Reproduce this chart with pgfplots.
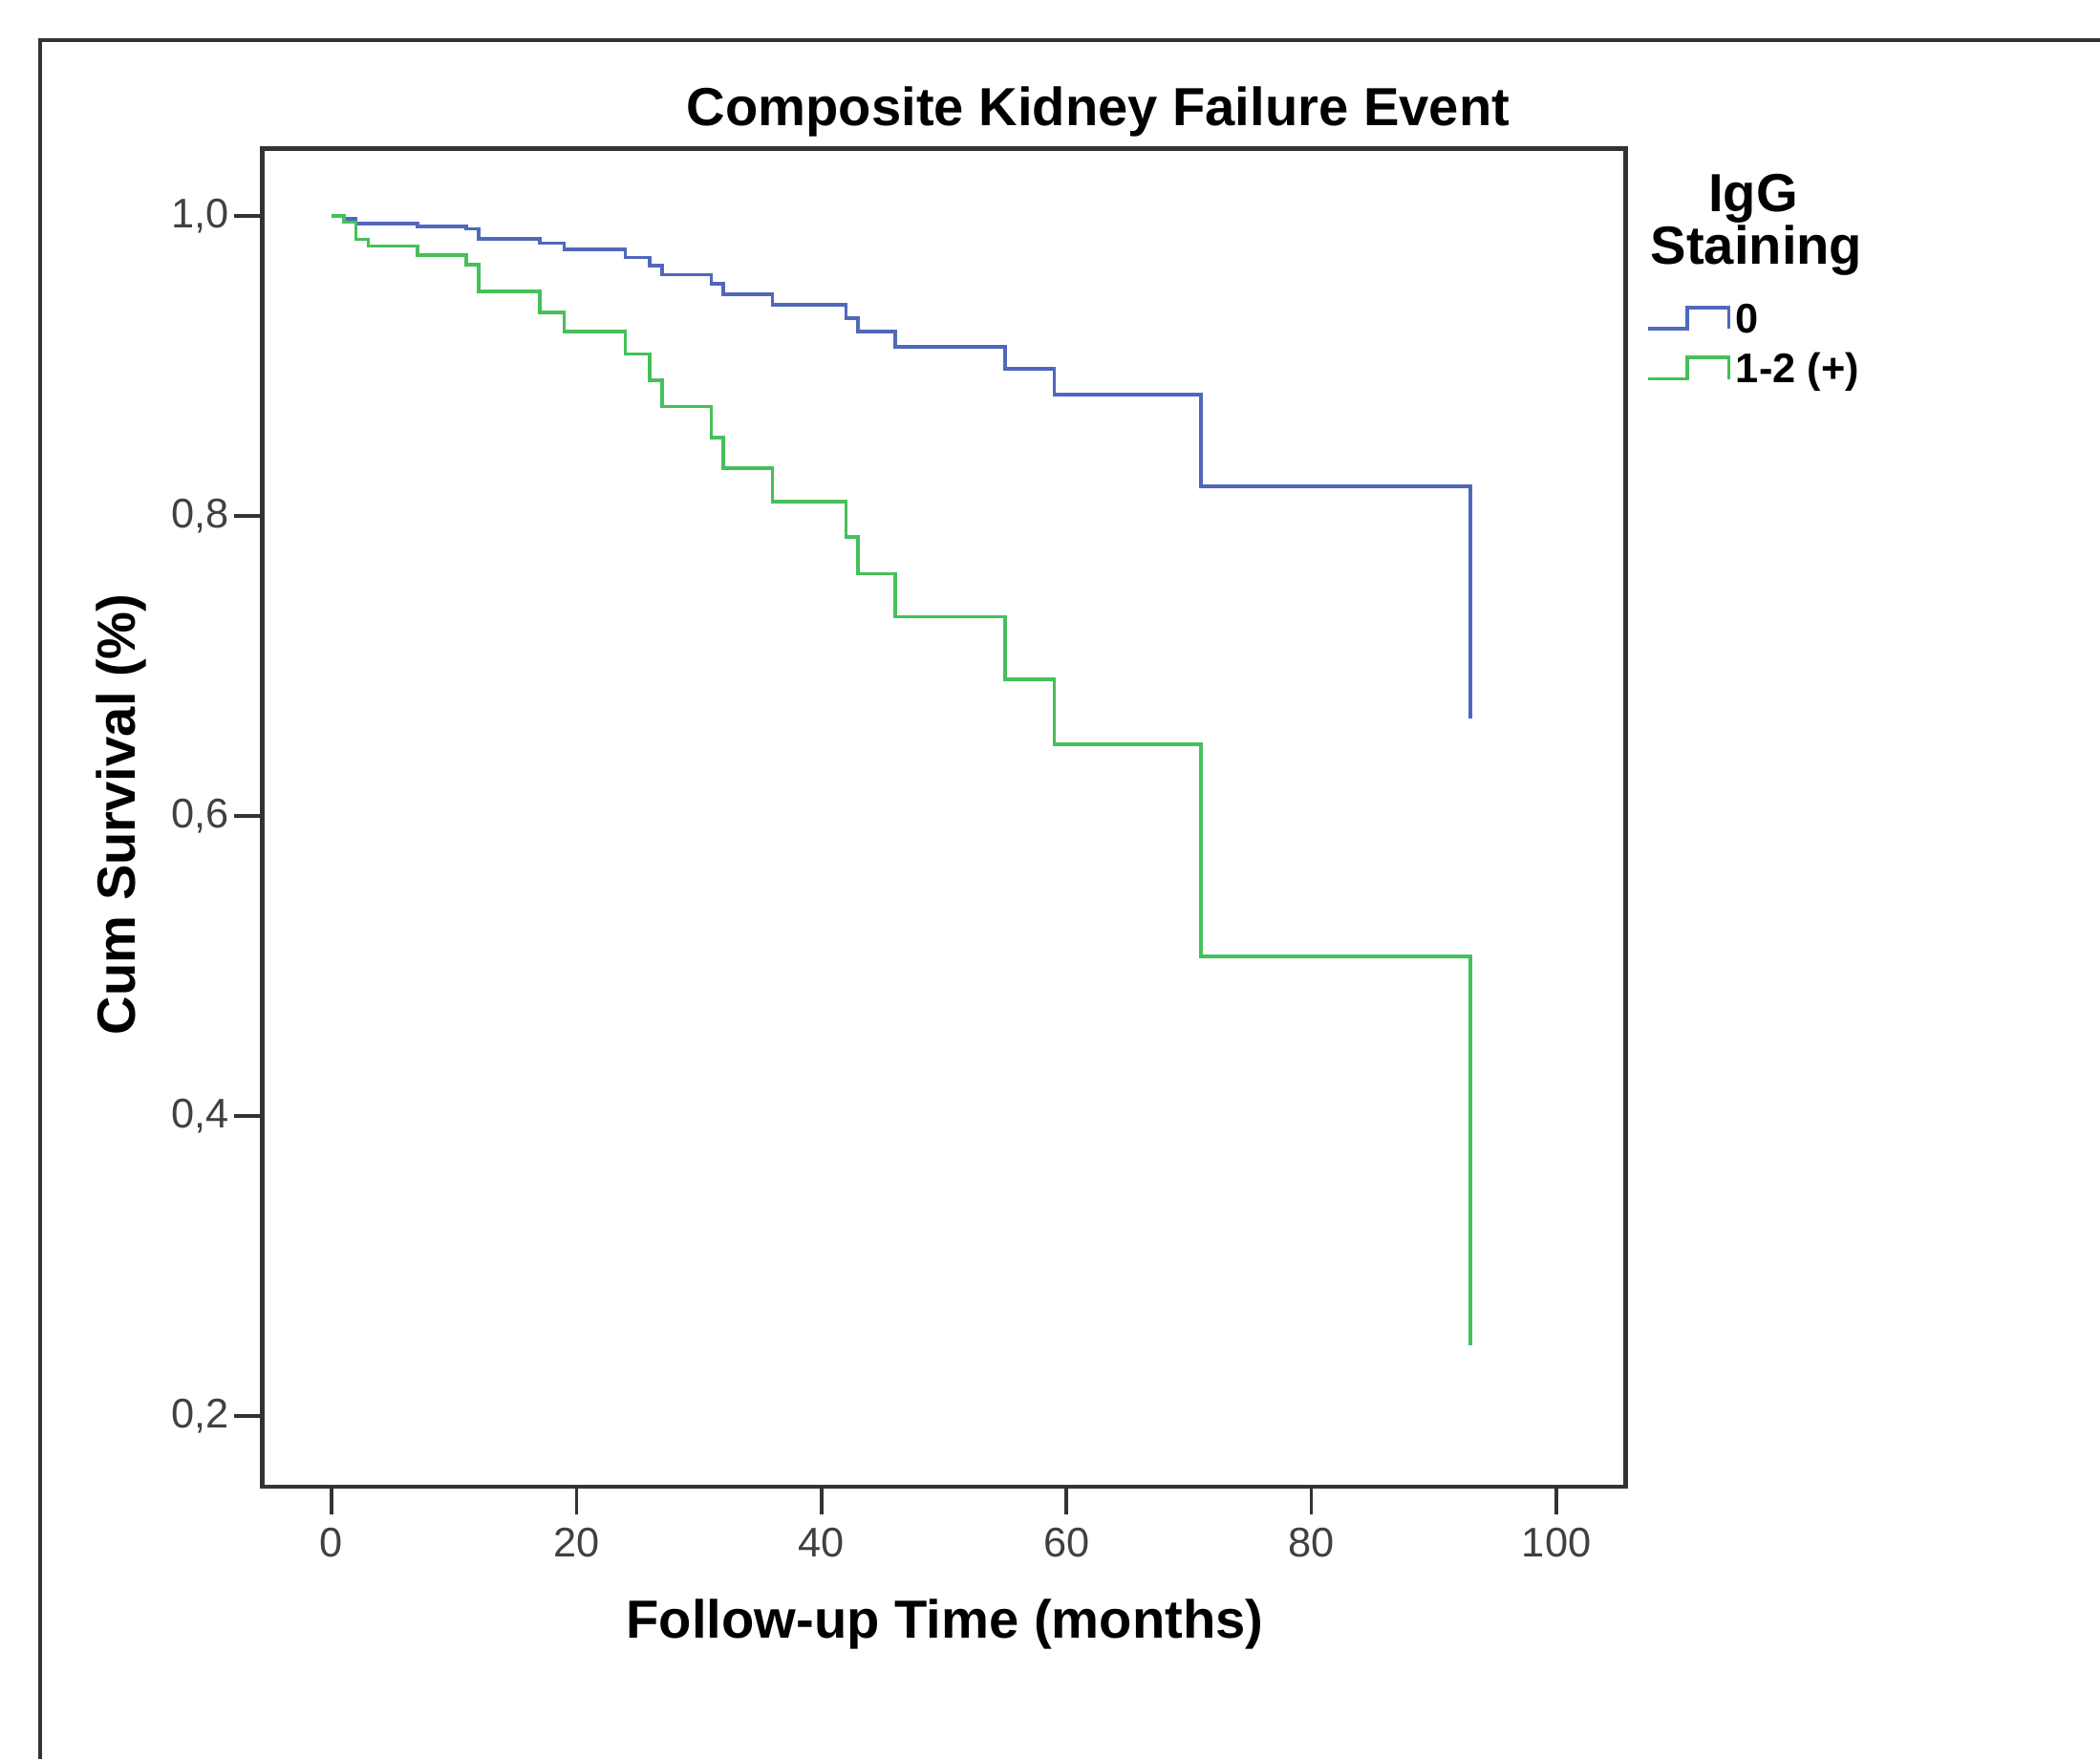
\documentclass[border=0pt]{standalone}
\usepackage{fontspec}
\setmainfont{Liberation Sans}
\usepackage{pgfplots}
\usepackage{pgfplotstable}
\pgfplotsset{compat=1.18}

\definecolor{kmblue}{HTML}{5068BC}
\definecolor{kmgreen}{HTML}{45C05A}
\definecolor{axgray}{HTML}{333333}

% Kaplan-Meier estimates, IgG staining 0
\pgfplotstableread{
t S
0 1.000
1 0.998
2 0.9952
7 0.993
11 0.9915
12 0.985
17 0.982
19 0.978
24 0.9725
26 0.967
27 0.961
31 0.955
32 0.948
36 0.941
42 0.932
43 0.923
46 0.913
55 0.898
59 0.881
71 0.820
93 0.665
}\neg

% IgG staining 1-2 (+)
\pgfplotstableread{
t S
0 1.000
1 0.996
2 0.9846
3 0.980
7 0.974
11 0.9677
12 0.950
17 0.936
19 0.923
24 0.908
26 0.8905
27 0.873
31 0.8525
32 0.832
36 0.8096
42 0.786
43 0.7616
46 0.733
55 0.691
59 0.648
71 0.5066
93 0.247
}\pos

\begin{document}
\begin{tikzpicture}
\path[use as bounding box] (0,0) rectangle (15.68,13.13);
% outer frame (only left and top edges are inside the picture)
\draw[axgray, line width=0.8pt] (0.30,-0.1) -- (0.30,12.83) -- (15.8,12.83);

\begin{axis}[
  at={(1.958cm,2.03cm)}, anchor=south west,
  scale only axis, width=10.18cm, height=9.99cm,
  xmin=-5.65, xmax=105.65, ymin=0.153, ymax=1.045,
  xtick={0,20,40,60,80,100}, ytick={0.2,0.4,0.6,0.8,1.0},
  tick align=outside, tick pos=left, major tick length=0.21cm,
  axis line style={axgray, line width=0.9pt},
  every tick/.style={axgray, line width=0.7pt},
  ticklabel style={font=\fontsize{8.8}{10}\selectfont, text=black!75},
  xticklabel style={inner sep=0.03cm, yshift=-0.06cm, /pgf/number format/assume math mode=true},
  yticklabel style={inner sep=0.03cm, /pgf/number format/.cd, use comma, fixed, fixed zerofill, precision=1, assume math mode=true},
  legend image code/.code={\draw[#1] (0cm,-0.055cm) -- (0.29cm,-0.055cm) -- (0.29cm,0.105cm) -- (0.60cm,0.105cm) -- (0.60cm,-0.055cm);},
  legend style={draw=none, fill=none, inner sep=0pt, at={(1,1)}, anchor=north west,
    xshift=0.15cm, yshift=-1.11cm, row sep=0.02cm,
    font=\fontsize{8.8}{10}\selectfont\bfseries,
    nodes={inner sep=0.04cm}},
  legend cell align=left,
]
\addplot[const plot, kmblue, line width=0.75pt] table[x=t, y=S] {\neg};
\addplot[const plot, kmgreen, line width=0.75pt] table[x=t, y=S] {\pos};
\legend{0, 1-2 (+)}
\end{axis}

\node[anchor=base, font=\fontsize{11.4}{13}\selectfont\bfseries] at (8.20,12.19) {Composite Kidney Failure Event};
\node[anchor=base, font=\fontsize{11.4}{13}\selectfont\bfseries] at (7.055,0.896) {Follow-up Time (months)};
\node[anchor=base, rotate=90, font=\fontsize{11.4}{13}\selectfont\bfseries] at (1.01,7.05) {Cum Survival (\%)};
\node[anchor=base, font=\fontsize{11.4}{13}\selectfont\bfseries] at (13.09,11.549) {IgG};
\node[anchor=base, font=\fontsize{11.4}{13}\selectfont\bfseries] at (13.115,11.156) {Staining};
\end{tikzpicture}
\end{document}
